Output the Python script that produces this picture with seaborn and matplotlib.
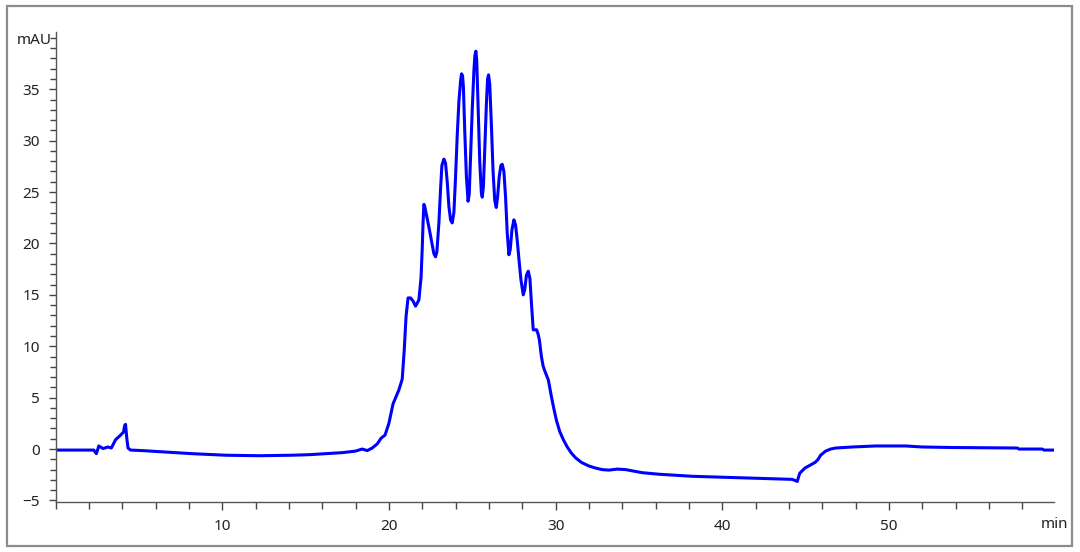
import pandas as pd
import matplotlib.pyplot as plt
import seaborn as sns
from matplotlib.patches import Rectangle
from matplotlib.ticker import MultipleLocator

# Chromatogram trace (time in min, signal in mAU)
tiempo = [0, 2.3, 2.45, 2.6, 2.85, 3.15, 3.35, 3.6, 3.9, 4.08, 4.15, 4.2, 4.28, 4.35, 4.5,
          5.2, 6.2, 8.2, 10.2, 12.2, 14.2, 15.2, 16.2, 17.2, 18.0, 18.4, 18.7, 19.0, 19.3,
          19.54, 19.77, 20.0, 20.25, 20.6, 20.8, 20.92, 21.03, 21.15, 21.3, 21.45, 21.6, 21.8, 21.9,
          21.93, 22.0, 22.05, 22.1, 22.15, 22.25, 22.4, 22.55, 22.7, 22.8, 22.88, 23.0, 23.1,
          23.18, 23.3, 23.4, 23.5, 23.6, 23.7, 23.8, 23.9, 24.0, 24.1, 24.2, 24.3, 24.36, 24.42,
          24.47, 24.55, 24.65, 24.75, 24.82, 24.9, 25.0, 25.1, 25.16, 25.22, 25.27, 25.35, 25.45,
          25.55, 25.6, 25.67, 25.75, 25.85, 25.92, 25.98, 26.05, 26.15, 26.25, 26.35, 26.44,
          26.52, 26.62, 26.72, 26.8, 26.9, 27.0, 27.1, 27.2, 27.28, 27.38, 27.5, 27.6, 27.7,
          27.8, 27.92, 28.06, 28.15, 28.25, 28.36, 28.46, 28.56, 28.66, 28.86, 28.95, 29.03,
          29.15, 29.25, 29.33, 29.5, 29.57, 29.75, 29.9, 30.05, 30.25, 30.47, 30.7, 30.95, 31.2,
          31.55, 32.0, 32.4, 32.8, 33.2, 33.7, 34.2, 34.7, 35.2, 36.2, 37.2, 38.2, 40.2, 42.2,
          44.2, 44.5, 44.58, 44.65, 44.96, 45.3, 45.57, 45.75, 45.9, 46.2, 46.5, 46.8, 47.8,
          49.2, 51.0, 52.0, 53.8, 57.7, 57.8, 59.2, 59.3, 59.9]
senal = [-0.1, -0.1, -0.45, 0.3, 0.05, 0.2, 0.1, 0.9, 1.35, 1.65, 2.3, 2.4, 1.0, 0.1, -0.1,
         -0.15, -0.25, -0.45, -0.6, -0.65, -0.6, -0.55, -0.45, -0.35, -0.2, 0.0, -0.15, 0.1, 0.5,
         1.07, 1.36, 2.5, 4.4, 5.75, 6.8, 9.6, 12.9, 14.7, 14.7, 14.4, 13.9, 14.5, 16.2,
         16.7, 19.5, 22.0, 23.8, 23.6, 22.8, 21.6, 20.3, 19.0, 18.7, 19.2, 22.0, 25.3,
         27.6, 28.2, 27.8, 26.0, 23.6, 22.3, 22.0, 23.0, 26.5, 30.5, 33.8, 35.8, 36.5, 36.3,
         35.2, 31.0, 26.5, 24.1, 24.8, 28.5, 33.0, 36.8, 38.3, 38.7, 37.8, 33.5, 28.0,
         24.9, 24.5, 25.5, 29.0, 33.6, 36.0, 36.4, 35.5, 31.5, 27.0, 24.2, 23.5,
         24.5, 26.5, 27.6, 27.7, 27.0, 24.5, 21.0, 18.9, 19.4, 21.3, 22.3, 21.8, 20.3,
         18.5, 16.5, 15.0, 15.5, 16.9, 17.3, 16.6, 14.0, 11.6, 11.6, 11.2, 10.6,
         9.0, 8.1, 7.7, 7.0, 6.7, 5.1, 3.9, 2.8, 1.7, 0.9, 0.2, -0.4, -0.85,
         -1.3, -1.65, -1.85, -2.0, -2.05, -1.95, -2.0, -2.15, -2.3, -2.45, -2.55, -2.65, -2.75, -2.85,
         -2.95, -3.15, -2.7, -2.35, -1.85, -1.55, -1.3, -1.0, -0.6, -0.2, 0.0, 0.1, 0.2,
         0.3, 0.3, 0.2, 0.15, 0.1, 0.0, 0.0, -0.1, -0.1]

etiquetas_x = [10, 20, 30, 40, 50]
etiquetas_y = [-5, 0, 5, 10, 15, 20, 25, 30, 35]

df = pd.DataFrame({"min": tiempo, "mAU": senal})

sns.set_style("white")
plt.rcParams["font.family"] = ["Noto Sans", "DejaVu Sans"]

fig = plt.figure(figsize=(10.8, 5.52), dpi=100)
ax = fig.add_axes([0.0514, 0.0906, 0.9245, 0.852])

sns.lineplot(data=df, x="min", y="mAU", color="#0000ff", linewidth=2.2,
             estimator=None, sort=False, ax=ax)

ax.set_xlim(0, 59.9)
ax.set_ylim(-5.15, 40.6)
ax.set_xlabel("")
ax.set_ylabel("")

ax.xaxis.set_minor_locator(MultipleLocator(2))
ax.yaxis.set_minor_locator(MultipleLocator(1))
ax.set_xticks(etiquetas_x)
ax.set_yticks(etiquetas_y)

ax.tick_params(which="both", direction="out", colors="#444444", labelcolor="#222222",
               labelsize=11, width=1)
ax.tick_params(axis="x", which="major", length=6, pad=6)
ax.tick_params(axis="x", which="minor", length=5)
ax.tick_params(axis="y", which="major", length=5, pad=6)
ax.tick_params(axis="y", which="minor", length=4)
ax.tick_params(left=True, bottom=True, which="both")

for s in ["top", "right"]:
    ax.spines[s].set_visible(False)
for s in ["left", "bottom"]:
    ax.spines[s].set_color("#555555")
    ax.spines[s].set_linewidth(1)

fig.text(52 / 1080, 1 - 40 / 552, "mAU", ha="right", va="center", fontsize=11, color="#222222")
fig.text(1068 / 1080, 1 - 524 / 552, "min", ha="right", va="center", fontsize=11, color="#222222")

# grey frame round the whole picture
fig.patches.append(Rectangle((7 / 1080, 6 / 552), 1065 / 1080, 540 / 552,
                             transform=fig.transFigure, fill=False,
                             edgecolor="#8c8c8c", linewidth=1.6))

plt.savefig("out.png", dpi=100)
plt.close()
